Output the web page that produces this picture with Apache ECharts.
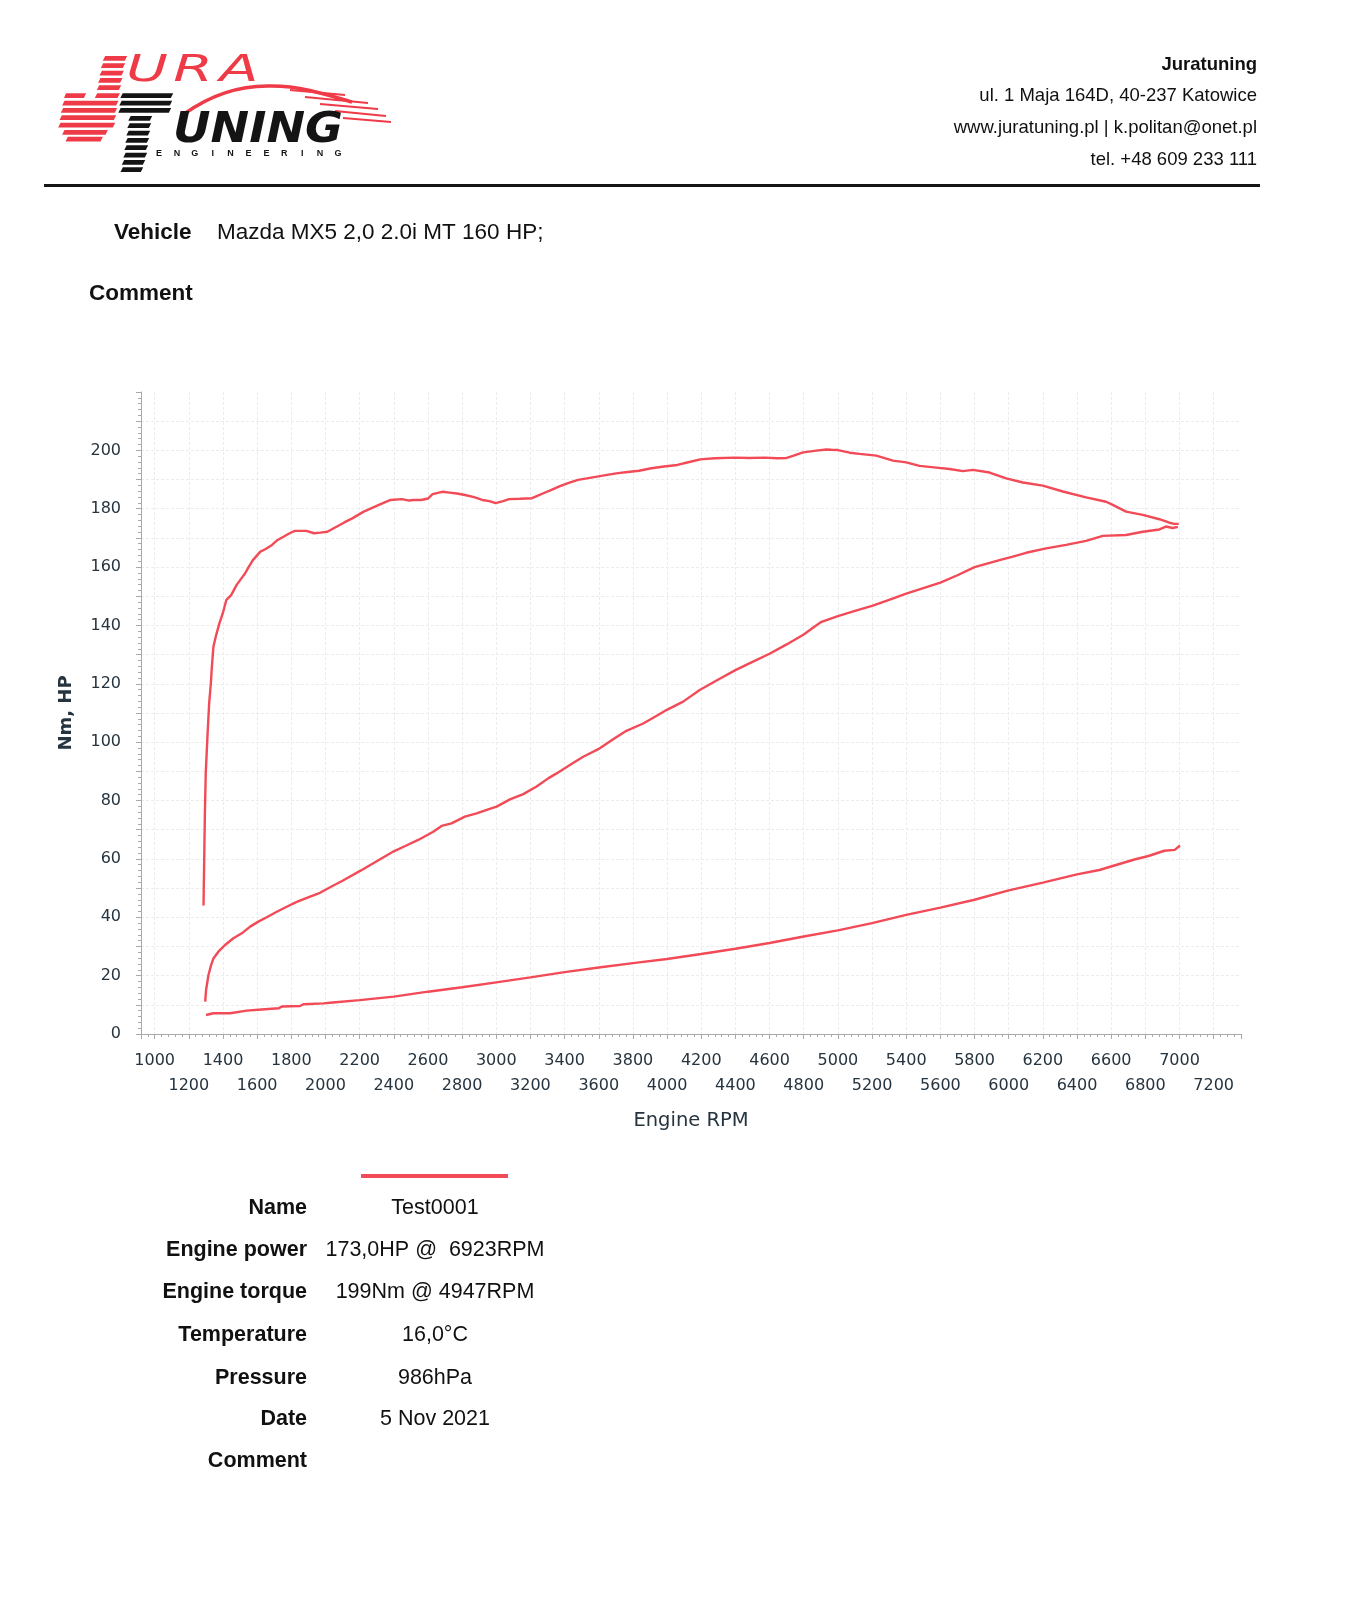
<!DOCTYPE html>
<html><head><meta charset="utf-8">
<script src="https://cdn.jsdelivr.net/npm/echarts@6/dist/echarts.min.js"></script>
<style>html,body{margin:0;padding:0;background:#fff;}#c{width:1369px;height:1600px;}</style>
</head><body><div id="c"></div>
<script>
// ---------- data ----------
const torqueRpm = [1286,1290,1294,1299,1309,1319,1329,1335,1344,1360,1379,1399,1420,1448,1480,1510,1530,1549,1575,1619,1650,1687,1720,1754,1790,1821,1888,1933,1970,2011,2067,2110,2157,2224,2270,2313,2381,2448,2490,2515,2560,2600,2627,2683,2728,2770,2817,2870,2918,2960,2996,3040,3075,3140,3209,3240,3276,3320,3366,3420,3478,3530,3590,3640,3702,3770,3836,3900,3970,4060,4130,4194,4280,4396,4480,4575,4642,4700,4737,4796,4874,4932,4960,5000,5069,5127,5225,5322,5400,5478,5576,5654,5732,5790,5888,5985,6083,6200,6317,6453,6570,6609,6687,6785,6882,6941,6970,6995];
const torqueNm = [44,59.6,75.6,89.3,101.9,113.3,120.2,125.9,132.7,136.7,140.7,144.2,148.8,150.4,153.9,156.3,157.9,159.9,162.4,165.3,166.2,167.6,169.3,170.4,171.6,172.4,172.4,171.6,171.8,172.1,173.9,175.3,176.7,179,180.2,181.3,183,183.3,182.8,183,183,183.5,185,185.8,185.5,185.2,184.7,184,183,182.6,181.9,182.6,183.3,183.4,183.6,184.4,185.3,186.4,187.6,188.8,189.9,190.4,191,191.5,192.1,192.6,193,193.8,194.4,195,196,196.9,197.3,197.5,197.4,197.5,197.3,197.4,198.1,199.3,199.9,200.3,200.2,200.1,199.2,198.8,198.2,196.5,195.9,194.7,194.1,193.6,192.9,193.3,192.4,190.4,189,187.9,185.9,183.9,182.4,181.3,179,177.9,176.4,175.2,174.8,174.8];
const powerRpm = [1296,1301,1315,1330,1344,1373,1412,1461,1510,1559,1607,1656,1715,1773,1832,1910,1968,2027,2100,2200,2300,2400,2470,2543,2631,2680,2738,2816,2885,2953,3002,3080,3158,3236,3304,3353,3440,3509,3606,3684,3762,3860,3947,3996,4094,4191,4300,4400,4500,4600,4700,4800,4860,4900,5000,5100,5200,5300,5400,5500,5600,5700,5800,5946,6024,6102,6219,6336,6453,6551,6687,6785,6882,6921,6960,6990];
const powerHp = [11.1,15.1,20.2,23.5,25.9,28.2,30.5,32.8,34.5,36.8,38.5,40,41.9,43.6,45.3,47.1,48.4,50.3,52.5,55.8,59.2,62.6,64.5,66.5,69.3,71.3,72.2,74.5,75.6,77,77.9,80.4,82.2,84.8,87.6,89.3,92.5,95,97.9,101,103.9,106.4,109.3,111,113.9,117.9,121.5,124.7,127.5,130.3,133.5,136.9,139.5,141.1,143.2,145,146.7,148.8,150.9,152.8,154.7,157.2,160,162.4,163.6,164.9,166.4,167.6,169,170.7,171,172.1,172.9,173.9,173.4,173.8];
const lossRpm = [1301,1344,1442,1452,1539,1627,1725,1744,1851,1871,1988,2027,2200,2400,2600,2800,3000,3200,3400,3600,3800,4000,4200,4400,4600,4800,5000,5200,5400,5600,5800,6000,6200,6400,6531,6633,6736,6818,6911,6972,7003];
const lossHp = [6.5,7.1,7.1,7.6,8,8.4,8.8,9.4,9.6,10.2,10.5,10.7,11.6,12.8,14.5,16,17.7,19.4,21.2,22.8,24.3,25.7,27.4,29.2,31.2,33.4,35.5,38,40.8,43.3,46,49.2,51.9,54.7,56.2,58,59.8,61,62.8,63.1,64.6];

const headerLines = ['Juratuning','ul. 1 Maja 164D, 40-237 Katowice','www.juratuning.pl | k.politan@onet.pl','tel. +48 609 233 111'];
const vehicleText = 'Mazda MX5 2,0 2.0i MT 160 HP;';
const tableLabels = ['Name','Engine power','Engine torque','Temperature','Pressure','Date','Comment'];
const tableValues = ['Test0001','173,0HP @  6923RPM','199Nm @ 4947RPM','16,0\u00B0C','986hPa','5 Nov 2021',''];

// ---------- drawing ----------
const RED = '#f24a56';
const AX = '#a9a9a9';
const LBL = '#26343f';
const GRID = '#ececec';
const DOCF = '"Liberation Sans", Arial, sans-serif';
const CHF = '"DejaVu Sans", Verdana, sans-serif';

const pairs = (xs, ys) => xs.map((x, i) => [x, ys[i]]);

const g = [];
const redRows = [
  [56,104,126],[63.3,102,124],[70.7,100.7,122.7],[78,99.3,121.3],[85.3,98,120],
  [93.3,96,118.7],[100.7,63.3,117.3],[108,62,116],[115.3,60.7,115],[122.7,59.3,114],[130,63.3,106.7],[136.7,66.7,101.7]
];
redRows.forEach(r => {
  const y = r[0], h = 4.8, s = 1.2;
  g.push({type:'polygon', shape:{points:[[r[1]+s,y],[r[2]+s,y],[r[2]-s,y+h],[r[1]-s,y+h]]}, style:{fill:'#ee3b47'}});
});
g.push({type:'polygon', shape:{points:[[66,93.3],[86,93.3],[84,98.1],[64,98.1]]}, style:{fill:'#ee3b47'}});
const blackRows = [
  [93.3,121.5,172],[100.7,120.5,171],[108,119.5,170],
  [116,129.5,151],[123.3,128.5,150],[130.7,127.5,149],[138,126.5,148],[145.3,125.5,147],[152.7,124.5,146],[160,123,144],[167.3,121.7,142]
];
blackRows.forEach(r => {
  const y = r[0], h = 4.8, s = 1.2;
  g.push({type:'polygon', shape:{points:[[r[1]+s,y],[r[2]+s,y],[r[2]-s,y+h],[r[1]-s,y+h]]}, style:{fill:'#141414'}});
});
['U','R','A'].forEach((ch, i) => {
  g.push({type:'text', x: 147 + i*46, y: 71, scaleX: 1.5, scaleY: 1,
    style:{text:ch, x:0, y:0, textAlign:'center', textVerticalAlign:'middle', font:'italic 38px ' + CHF, fill:'#ee3b47'}});
});
// car swoosh
g.push({type:'bezierCurve', shape:{x1:184, y1:114, cpx1:212, cpy1:94, cpx2:240, cpy2:85, x2:272, y2:86}, style:{stroke:'#ee3b47', lineWidth:3.5, fill:null}});
g.push({type:'bezierCurve', shape:{x1:272, y1:86, cpx1:300, cpy1:86, cpx2:325, cpy2:94, x2:352, y2:102}, style:{stroke:'#ee3b47', lineWidth:3.5, fill:null}});
[[290,90,345,95],[305,97,368,103],[320,104,378,109],[335,111,386,116],[343,118,391,122]].forEach(l => {
  g.push({type:'line', shape:{x1:l[0],y1:l[1],x2:l[2],y2:l[3]}, style:{stroke:'#ee3b47', lineWidth:2}});
});
g.push({type:'text', x: 258, y: 131, scaleX: 1.1, scaleY: 1,
  style:{text:'UNING', x:0, y:0, textAlign:'center', textVerticalAlign:'middle', font:'italic bold 42px ' + CHF, fill:'#141414'}});
'ENGINEERING'.split('').forEach((ch, i) => {
  g.push({type:'text', style:{text:ch, x:159 + i*17.9, y:153.8, textAlign:'center', textVerticalAlign:'middle', font:'bold 9px ' + DOCF, fill:'#141414'}});
});
const hy = [64.5, 95.5, 128, 159.5];
headerLines.forEach((t, i) => {
  g.push({type:'text', style:{text:t, x:1257, y:hy[i], textAlign:'right', textVerticalAlign:'middle', font:(i===0?'bold ':'') + '18.5px ' + DOCF, fill:'#111'}});
});
g.push({type:'rect', shape:{x:44, y:184, width:1216, height:3}, style:{fill:'#151515'}});
g.push({type:'text', style:{text:'Vehicle', x:114, y:232.5, textAlign:'left', textVerticalAlign:'middle', font:'bold 22.5px ' + DOCF, fill:'#111'}});
g.push({type:'text', style:{text:vehicleText, x:217, y:232.5, textAlign:'left', textVerticalAlign:'middle', font:'22.5px ' + DOCF, fill:'#111'}});
g.push({type:'text', style:{text:'Comment', x:89, y:293.5, textAlign:'left', textVerticalAlign:'middle', font:'bold 22.5px ' + DOCF, fill:'#111'}});
g.push({type:'rect', shape:{x:361, y:1174, width:147, height:4}, style:{fill:RED}});
const ty = [1208.5, 1250.3, 1292, 1334.8, 1377.6, 1419.4, 1461.2];
tableLabels.forEach((t, i) => {
  g.push({type:'text', style:{text:t, x:307, y:ty[i], textAlign:'right', textVerticalAlign:'middle', font:'bold 21.5px ' + DOCF, fill:'#111'}});
  if (tableValues[i]) g.push({type:'text', style:{text:tableValues[i], x:435, y:ty[i], textAlign:'center', textVerticalAlign:'middle', font:'21.5px ' + DOCF, fill:'#111'}});
});

const lineSeries = (name, data) => ({
  name, type:'line', data, showSymbol:false, symbol:'none', smooth:false,
  lineStyle:{color:RED, width:2.4}, itemStyle:{color:RED}, z:3
});

const chart = echarts.init(document.getElementById('c'), null, {renderer:'canvas'});
chart.setOption({
  animation:false,
  backgroundColor:'#fff',
  grid:{left:141, top:392, width:1100, height:642, containLabel:false},
  xAxis:{
    type:'value', min:920, max:7360, minInterval:200, maxInterval:200,
    name:'Engine RPM', nameLocation:'middle', nameGap:77,
    nameTextStyle:{fontSize:19.5, fontFamily:CHF, color:LBL},
    axisLine:{show:true, lineStyle:{color:AX, width:1}},
    axisTick:{show:true, length:5, lineStyle:{color:AX}},
    minorTick:{show:true, splitNumber:5, length:3, lineStyle:{color:AX}},
    axisLabel:{margin:14, fontSize:16, fontFamily:CHF, color:LBL, lineHeight:25.5,
      showMinLabel:false, showMaxLabel:false,
      formatter: v => (v % 200 !== 0) ? '' : (((v / 200) % 2 === 1) ? String(v) : '\n' + v)},
    splitLine:{show:true, showMinLine:false, showMaxLine:false, lineStyle:{color:GRID, width:1, type:[3,2]}},
    minorSplitLine:{show:false}
  },
  yAxis:{
    type:'value', min:0, max:220, interval:10,
    name:'Nm, HP', nameLocation:'middle', nameGap:66, nameRotate:90,
    nameTextStyle:{fontSize:18, fontWeight:'bold', fontFamily:CHF, color:LBL},
    axisLine:{show:true, lineStyle:{color:AX, width:1}},
    axisTick:{show:true, length:5, lineStyle:{color:AX}},
    minorTick:{show:true, splitNumber:5, length:3, lineStyle:{color:AX}},
    axisLabel:{margin:20, fontSize:16, fontFamily:CHF, color:LBL,
      formatter: v => (v % 20 === 0 && v <= 200) ? String(v) : ''},
    splitLine:{show:true, showMinLine:false, showMaxLine:false, lineStyle:{color:GRID, width:1, type:[3,2]}}
  },
  series:[
    lineSeries('Torque', pairs(torqueRpm, torqueNm)),
    lineSeries('Power', pairs(powerRpm, powerHp)),
    lineSeries('Loss', pairs(lossRpm, lossHp))
  ],
  graphic:{elements:g}
});
</script></body></html>
